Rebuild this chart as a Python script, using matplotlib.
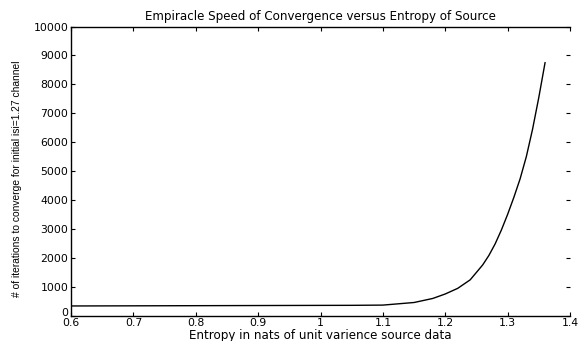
import matplotlib
matplotlib.use("Agg")
import matplotlib.pyplot as plt
import matplotlib.transforms as mtransforms
from matplotlib.ticker import FixedLocator

entropy = [0.60, 0.70, 0.80, 0.90, 1.00, 1.05, 1.10, 1.15, 1.18, 1.20, 1.22, 1.24,
           1.26, 1.27, 1.28, 1.29, 1.30, 1.31, 1.32, 1.33, 1.34, 1.35, 1.36]
iterations = [330, 335, 340, 345, 350, 352, 360, 450, 590, 745, 940, 1235,
              1750, 2080, 2480, 2960, 3500, 4090, 4730, 5500, 6450, 7550, 8750]
xticks = [0.6, 0.7, 0.8, 0.9, 1.0, 1.1, 1.2, 1.3, 1.4]
xticklabels = ["0.6", "0.7", "0.8", "0.9", "1", "1.1", "1.2", "1.3", "1.4"]
yticks = [0, 1000, 2000, 3000, 4000, 5000, 6000, 7000, 8000, 9000, 10000]
title = "Empiracle Speed of Convergence versus Entropy of Source"
xlabel = "Entropy in nats of unit varience source data"
ylabel = "# of iterations to converge for initial isi=1.27 channel"

plt.rcParams['font.family'] = ['DejaVu Sans']

fig = plt.figure(figsize=(5.81, 3.41), dpi=100)
ax = fig.add_axes([71/581, 1-315.5/341, (570-71)/581, (315.5-26.6)/341])
ax.plot(entropy, iterations, color='black', linewidth=1.0)
ax.set_xlim(0.6, 1.4)
ax.set_ylim(0, 10000)
ax.xaxis.set_major_locator(FixedLocator(xticks))
ax.set_xticklabels(xticklabels)
ax.yaxis.set_major_locator(FixedLocator(yticks))
ax.set_yticklabels([str(v) for v in yticks])
ax.tick_params(direction='in', length=3, width=0.8, top=True, right=True,
               labelsize=7.8, pad=2, colors='black')
ax.tick_params(axis='x', pad=2)
for s in ['left', 'top', 'bottom']:
    ax.spines[s].set_linewidth(1.0)
ax.spines['right'].set_visible(False)

# nudge the "0" y tick label up slightly (as in the reference)
zero_lbl = ax.get_yticklabels()[0]
zero_lbl.set_transform(zero_lbl.get_transform() +
                       mtransforms.ScaledTranslation(0, 3.5/100, fig.dpi_scale_trans))

ax.set_title(title, fontsize=8.6, pad=5)
ax.set_xlabel(xlabel, fontsize=8.6, labelpad=0.5)
ax.set_ylabel(ylabel, fontsize=7.4, family=['Liberation Sans Narrow', 'Liberation Sans'])
ax.yaxis.set_label_coords(-0.098, 0.475)

fig.savefig("out.png", dpi=100)
